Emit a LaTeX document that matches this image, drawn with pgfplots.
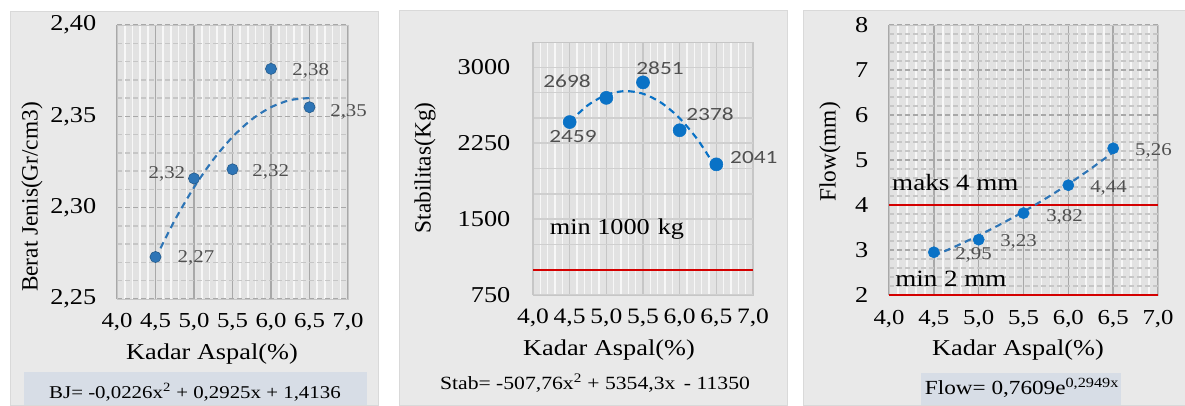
\documentclass[border=0pt]{standalone}
\usepackage{fontspec}
\setmainfont{Liberation Serif}[FakeStretch=1.16]
\newfontfamily\yfont{Liberation Serif}
\newfontfamily\calfont{Carlito}[FakeStretch=1.25]
\usepackage{pgfplots}
\pgfplotsset{compat=1.18}
\definecolor{panelbg}{HTML}{E9E9E9}
\definecolor{plotbg}{HTML}{E2E2E2}
\definecolor{eqbox}{HTML}{D7DDE6}
\definecolor{mblue}{HTML}{2E75B6}
\definecolor{mblueb}{HTML}{0A72C6}
\definecolor{lblgray}{HTML}{505050}
\definecolor{redl}{HTML}{D40000}
\definecolor{majgrid}{HTML}{A8A8A8}
\definecolor{mingrid}{HTML}{C6C6C6}
\definecolor{whitegrid}{HTML}{F7F7F7}

\tikzset{dlab/.style={font=\fontsize{13.5}{15}\selectfont, text=lblgray, inner sep=0pt}}
\pgfplotsset{
 common/.style={
  scale only axis,
  axis background/.style={fill=plotbg},
  axis line style={draw=mingrid},
  tick style={draw=none},
  grid=both,
  minor x grid style={draw=whitegrid, line width=1.2pt},
  major x grid style={draw=majgrid, line width=1.2pt},
  minor y grid style={draw=mingrid, line width=1.1pt, dash pattern=on 4pt off 2pt},
  major y grid style={draw=majgrid, line width=1.1pt, dash pattern=on 4pt off 2pt},
  xmin=4, xmax=7, xtick={4,4.5,5,5.5,6,6.5,7}, minor x tick num=4,
  xticklabels={{4,0},{4,5},{5,0},{5,5},{6,0},{6,5},{7,0}},
  xticklabel style={font=\fontsize{16}{18}\selectfont, yshift=-7pt},
  yticklabel style={font=\fontsize{17}{19}\selectfont, xshift=-12pt},
  clip=false,
 },
 trend/.style={no markers, smooth, line width=1.6pt, dash pattern=on 5pt off 3.5pt},
}

\begin{document}
\begin{tikzpicture}
% canvas
\path[fill=white] (0,0) rectangle (888.75pt,303.75pt);
% panel backgrounds
\path[fill=panelbg, draw=black!15] (7.5pt,0pt) rectangle (283.5pt,295.5pt);
\path[fill=panelbg, draw=black!15] (299.25pt,0pt) rectangle (590.25pt,296.25pt);
\path[fill=panelbg, draw=black!15] (602.25pt,0pt) rectangle (888.75pt,296.25pt);
% equation boxes
\path[fill=eqbox] (18pt,0pt) rectangle (275.25pt,24.75pt);
\path[fill=eqbox] (690.75pt,0pt) rectangle (840.75pt,24pt);

% ---------- Panel 1 ----------
\begin{axis}[common,
  at={(87.75pt,79.5pt)}, anchor=south west,
  width=173.25pt, height=205.5pt,
  ymin=2.25, ymax=2.40, ytick={2.25,2.30,2.35,2.40}, minor y tick num=4,
  yticklabels={{2,25},{2,30},{2,35},{2,40}},
]
\addplot[trend, mblue] coordinates {
 (4.5,2.2722) (4.75,2.2931) (5.0,2.3111) (5.25,2.3263) (5.5,2.3387)
 (5.75,2.3483) (6.0,2.3550) (6.25,2.3589) (6.5,2.3600)};
\addplot[only marks, mark=*, mark size=4.2pt, mark options={fill=mblue, draw=mblue!75!black}]
 coordinates {(4.5,2.273) (5.0,2.316) (5.5,2.321) (6.0,2.376) (6.5,2.355)};
\node[dlab, anchor=west] at (axis cs:6.275,2.3748) {2,38};
\node[dlab, anchor=west] at (axis cs:6.767,2.3524) {2,35};
\node[dlab, anchor=east] at (axis cs:4.889,2.3184) {2,32};
\node[dlab, anchor=west] at (axis cs:5.756,2.3195) {2,32};
\node[dlab, anchor=west] at (axis cs:4.785,2.2724) {2,27};
\end{axis}
\node[rotate=90, font=\yfont\fontsize{17.5}{20}\selectfont] at (24pt,156pt) {Berat Jenis(Gr/cm3)};
\node[font=\fontsize{17}{20}\selectfont] at (159pt,38.25pt) {Kadar Aspal(\%)};
\node[font=\fontsize{13.5}{15}\selectfont] at (146.25pt,9.75pt) {BJ= -0,0226x\textsuperscript{2} + 0,2925x + 1,4136};

% ---------- Panel 2 ----------
\begin{axis}[common,
  at={(399.75pt,82.5pt)}, anchor=south west,
  width=165pt, height=189.75pt,
  ymin=750, ymax=3250, ytick={750,1500,2250,3000}, minor y tick num=2,
  yticklabels={750,1500,2250,3000},
  yticklabel style={xshift=-1.5pt},
  minor y grid style={draw=mingrid!85, line width=1.1pt, solid},
  major y grid style={draw=mingrid!85, line width=1.1pt, solid},
  major x grid style={draw=mingrid, line width=1.2pt},
  xticklabel style={font=\fontsize{16.5}{18}\selectfont},
]
\addplot[redl, line width=1.5pt] coordinates {(4,1000) (7,1000)};
\addplot[trend, mblueb] coordinates {
 (4.5,2462) (4.75,2626) (5.0,2727) (5.25,2765) (5.5,2739)
 (5.75,2649) (6.0,2496) (6.25,2280) (6.5,2000)};
\addplot[only marks, mark=*, mark size=4.9pt, mark options={fill=mblueb, draw=mblueb}]
 coordinates {(4.5,2459) (5.0,2698) (5.5,2851) (6.0,2378) (6.5,2041)};
\node[dlab, font=\calfont\fontsize{14}{16}\selectfont] at (axis cs:4.545,2321) {2459};
\node[dlab, font=\calfont\fontsize{14}{16}\selectfont] at (axis cs:4.464,2865) {2698};
\node[dlab, font=\calfont\fontsize{14}{16}\selectfont] at (axis cs:5.732,2993) {2851};
\node[dlab, font=\calfont\fontsize{14}{16}\selectfont] at (axis cs:6.414,2539) {2378};
\node[dlab, font=\calfont\fontsize{14}{16}\selectfont, anchor=west] at (axis cs:6.686,2104) {2041};
\node[font=\fontsize{17}{20}\selectfont] at (axis cs:5.145,1402) {min 1000\hspace{0.35em}kg};
\end{axis}
\node[rotate=90, font=\yfont\fontsize{17.5}{20}\selectfont] at (318.75pt,177.75pt) {Stabilitas(Kg)};
\node[font=\fontsize{17}{20}\selectfont] at (456.75pt,41.25pt) {Kadar Aspal(\%)};
\node[font=\fontsize{14}{16}\selectfont] at (446.25pt,16.5pt) {Stab= -507,76x\textsuperscript{2} + 5354,3x\, - 11350};

% ---------- Panel 3 ----------
\begin{axis}[common,
  at={(666.75pt,82.5pt)}, anchor=south west,
  width=201.75pt, height=202.5pt,
  ymin=2, ymax=8, ytick={2,3,4,5,6,7,8}, minor y tick num=4,
  yticklabels={2,3,4,5,6,7,8},
  xticklabel style={yshift=-1pt},
]
\addplot[redl, line width=1.5pt] coordinates {(4,4) (7,4)};
\addplot[redl, line width=1.5pt] coordinates {(4,2) (7,2)};
\addplot[trend, mblue] coordinates {
 (4.5,2.8686) (4.75,3.0879) (5.0,3.3244) (5.25,3.5787) (5.5,3.8523)
 (5.75,4.1472) (6.0,4.4643) (6.25,4.8056) (6.5,5.1737)};
\addplot[only marks, mark=*, mark size=4.2pt, mark options={fill=mblueb, draw=mblueb}]
 coordinates {(4.5,2.95) (5.0,3.23) (5.5,3.82) (6.0,4.44) (6.5,5.26)};
\node[dlab, anchor=west] at (axis cs:4.736,2.889) {2,95};
\node[dlab, anchor=west] at (axis cs:5.238,3.178) {3,23};
\node[dlab, anchor=west] at (axis cs:5.751,3.733) {3,82};
\node[dlab, anchor=west] at (axis cs:6.242,4.378) {4,44};
\node[dlab, anchor=west] at (axis cs:6.743,5.2) {5,26};
\node[font=\fontsize{17.5}{20}\selectfont, anchor=west, inner sep=0pt] at (axis cs:4.033,4.489) {maks 4 mm};
\node[font=\fontsize{17.5}{20}\selectfont, anchor=west, inner sep=0pt] at (axis cs:4.067,2.356) {min 2 mm};
\end{axis}
\node[rotate=90, font=\yfont\fontsize{17.5}{20}\selectfont] at (622.5pt,189.75pt) {Flow(mm)};
\node[font=\fontsize{17}{20}\selectfont] at (763.5pt,41.25pt) {Kadar Aspal(\%)};
\node[font=\fontsize{15}{17}\selectfont] at (766.5pt,12.75pt) {Flow= 0,7609e\textsuperscript{0,2949x}};

\pgfresetboundingbox
\path[use as bounding box] (0,0) rectangle (888.75pt,303.75pt);
\end{tikzpicture}
\end{document}
